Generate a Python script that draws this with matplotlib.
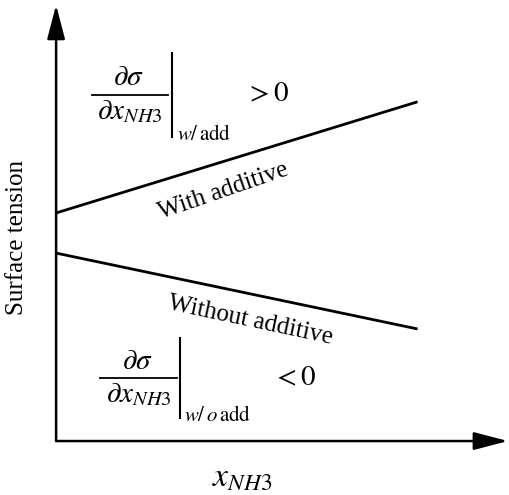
import matplotlib
matplotlib.use("Agg")
from matplotlib import pyplot as plt

plt.rcParams['font.family'] = ['Liberation Serif', 'DejaVu Serif']
plt.rcParams['mathtext.fontset'] = 'stix'

# schematic data: ammonia mole fraction vs surface tension (arbitrary units)
x_nh3 = [0.0, 0.8]
with_additive = [0.523, 0.778]
without_additive = [0.431, 0.257]

fig = plt.figure(figsize=(5.10, 4.95), dpi=100)
ax = fig.add_axes([0.110, 0.109, 0.886, 0.881])
ax.set_xlim(0, 1)
ax.set_ylim(0, 1)
ax.axis('off')

ax.plot(x_nh3, with_additive, color='black', lw=2.0, solid_capstyle='butt')
ax.plot(x_nh3, without_additive, color='black', lw=2.0, solid_capstyle='butt')

# axes drawn as arrows
arrow = dict(arrowstyle='-|>,head_length=2.1,head_width=0.55', color='black',
             lw=1.8, mutation_scale=10, shrinkA=0, shrinkB=0)
ax.annotate('', xy=(1.0, 0), xytext=(0, 0), xycoords='axes fraction',
            arrowprops=arrow)
ax.annotate('', xy=(0, 1.0), xytext=(0, 0), xycoords='axes fraction',
            arrowprops=arrow)

ax.text(0.37, 0.573, 'With additive', rotation=19, fontsize=18,
        ha='center', va='center')
ax.text(0.43, 0.277, 'Without additive', rotation=-12, fontsize=18,
        ha='center', va='center')


def derivative(x0, x1, yb, xbar, ytop, ybot, sub, xsgn, sign):
    # fraction d sigma / d x_NH3 evaluated with a vertical bar
    xc = (x0 + x1) / 2
    ax.plot([x0, x1], [yb, yb], color='black', lw=1.3)
    ax.text(xc - 0.003, yb + 0.008, r'$\partial\sigma$', fontsize=21,
            ha='center', va='bottom')
    ax.text(xc, yb - 0.008, r'$\partial x_{\mathit{NH3}}$', fontsize=21,
            ha='center', va='top')
    ax.plot([xbar, xbar], [ytop, ybot], color='black', lw=1.5)
    ax.text(xbar + 0.01, ybot + 0.005, sub, fontsize=15, ha='left', va='center')
    ax.text(xsgn, yb, sign, fontsize=21, ha='left', va='center')


derivative(0.080, 0.248, 0.794, 0.257, 0.890, 0.697,
           r'$w/\,\mathrm{add}$', 0.418, r'$>0$')
derivative(0.097, 0.268, 0.1445, 0.274, 0.236, 0.053,
           r'$w/\,o\,\mathrm{add}$', 0.478, r'$<0$')

fig.text(0.034, 0.52, 'Surface tension', rotation=90, fontsize=18,
         ha='center', va='center')
fig.text(0.474, 0.036, r'$x_{\mathit{NH3}}$', fontsize=24, ha='center', va='center')

fig.savefig('out.png', dpi=100)
